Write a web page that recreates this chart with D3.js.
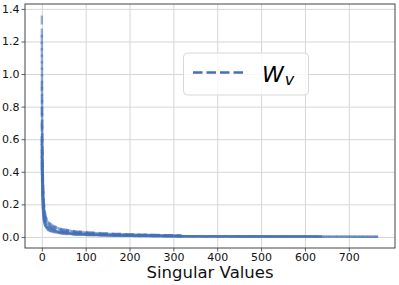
<!DOCTYPE html>
<html>
<head>
<meta charset="utf-8">
<script src="https://cdn.jsdelivr.net/npm/d3@7"></script>
<style>
  body { margin: 0; background: #fff; }
  svg { display: block; font-family: "DejaVu Sans", sans-serif; }
</style>
</head>
<body>
<script>
const knots = [0, 1, 2, 3, 5, 8, 12, 20, 35, 60, 100, 160, 250, 319, 450, 639, 767];

// each series follows the knots; shorter series stop earlier
const seriesValues = [
  [1.36, 0.66, 0.44, 0.32, 0.20, 0.14, 0.105, 0.080, 0.058, 0.042, 0.030, 0.020, 0.013, 0.009],
  [1.24, 0.60, 0.40, 0.30, 0.19, 0.13, 0.100, 0.076, 0.055, 0.040, 0.028, 0.019, 0.012, 0.008],
  [0.95, 0.55, 0.38, 0.28, 0.18, 0.12, 0.092, 0.070, 0.050, 0.036, 0.025, 0.017, 0.011, 0.007],
  [0.80, 0.50, 0.35, 0.26, 0.16, 0.11, 0.085, 0.064, 0.046, 0.033, 0.023, 0.015, 0.010, 0.006],
  [0.70, 0.46, 0.33, 0.24, 0.15, 0.10, 0.078, 0.058, 0.042, 0.030, 0.021, 0.014, 0.009, 0.006],
  [0.62, 0.42, 0.30, 0.22, 0.14, 0.095, 0.072, 0.054, 0.039, 0.028, 0.019, 0.013, 0.008, 0.005],
  [0.60, 0.40, 0.28, 0.20, 0.13, 0.088, 0.066, 0.050, 0.036, 0.025, 0.017, 0.011, 0.007, 0.005, 0.004, 0.003],
  [0.57, 0.38, 0.27, 0.19, 0.12, 0.082, 0.062, 0.046, 0.033, 0.023, 0.016, 0.010, 0.007, 0.005, 0.004, 0.003],
  [0.54, 0.35, 0.25, 0.18, 0.11, 0.076, 0.058, 0.043, 0.031, 0.021, 0.015, 0.010, 0.006, 0.004, 0.003, 0.002],
  [0.50, 0.33, 0.23, 0.17, 0.105, 0.072, 0.054, 0.040, 0.029, 0.020, 0.014, 0.009, 0.006, 0.004, 0.003, 0.002, 0.001],
  [0.47, 0.31, 0.22, 0.16, 0.100, 0.068, 0.051, 0.038, 0.027, 0.019, 0.013, 0.008, 0.005, 0.004, 0.003, 0.002, 0.001],
  [0.44, 0.29, 0.20, 0.15, 0.095, 0.064, 0.048, 0.035, 0.025, 0.017, 0.012, 0.008, 0.005, 0.003, 0.002, 0.002, 0.001]
];

const xTicks = [0, 100, 200, 300, 400, 500, 600, 700];
const yTicks = [0.0, 0.2, 0.4, 0.6, 0.8, 1.0, 1.2, 1.4];
const xLabel = 'Singular Values';

var width = 399;
var height = 285;
var plotL = 25, plotR = 395, plotT = 4, plotB = 248;
var lineColor = '#4470b8';

var svg = d3.select('body')
  .append('svg')
  .attr('width', width)
  .attr('height', height);

var x = d3.scaleLinear().domain([-38.35, 805.35]).range([plotL, plotR]);
var y = d3.scaleLinear().domain([-0.068, 1.43]).range([plotB, plotT]);

// grid
svg.append('g')
  .attr('transform', 'translate(0,' + plotB + ')')
  .call(d3.axisBottom(x).tickValues(xTicks).tickSize(-(plotB - plotT)).tickFormat(''))
  .call(g => g.select('.domain').remove())
  .call(g => g.selectAll('line').attr('stroke', '#d6d6d6').attr('stroke-width', 1));

svg.append('g')
  .attr('transform', 'translate(' + plotL + ',0)')
  .call(d3.axisLeft(y).tickValues(yTicks).tickSize(-(plotR - plotL)).tickFormat(''))
  .call(g => g.select('.domain').remove())
  .call(g => g.selectAll('line').attr('stroke', '#d6d6d6').attr('stroke-width', 1));

// series lines
var line = d3.line()
  .x(d => x(d[0]))
  .y(d => y(d[1]))
  .curve(d3.curveMonotoneX);

svg.append('g')
  .selectAll('path')
  .data(seriesValues.map(vals => vals.map((v, i) => [knots[i], v])))
  .join('path')
  .attr('d', line)
  .attr('fill', 'none')
  .attr('stroke', lineColor)
  .attr('stroke-opacity', 0.55)
  .attr('stroke-width', 2.4)
  .attr('stroke-dasharray', '9,4');

// axes
var xAxis = svg.append('g')
  .attr('transform', 'translate(0,' + plotB + ')')
  .call(d3.axisBottom(x).tickValues(xTicks).tickSize(3.5).tickPadding(2).tickFormat(d3.format('d')));

var yAxis = svg.append('g')
  .attr('transform', 'translate(' + plotL + ',0)')
  .call(d3.axisLeft(y).tickValues(yTicks).tickSize(3.5).tickPadding(2).tickFormat(d3.format('.1f')));

[xAxis, yAxis].forEach(g => {
  g.select('.domain').remove();
  g.selectAll('line').attr('stroke', '#333').attr('stroke-width', 0.8);
  g.selectAll('text').attr('fill', '#111').style('font-size', '11px').style('font-family', '"DejaVu Sans", sans-serif');
});

// frame
svg.append('rect')
  .attr('x', plotL).attr('y', plotT)
  .attr('width', plotR - plotL).attr('height', plotB - plotT)
  .attr('fill', 'none')
  .attr('stroke', '#444')
  .attr('stroke-width', 1);

svg.append('text')
  .attr('x', (plotL + plotR) / 2)
  .attr('y', 278)
  .attr('text-anchor', 'middle')
  .style('font-size', '16.5px')
  .attr('fill', '#111')
  .text(xLabel);

// legend
var legend = svg.append('g');
legend.append('rect')
  .attr('x', 183.5).attr('y', 53)
  .attr('width', 125).attr('height', 42)
  .attr('rx', 4)
  .attr('fill', 'white').attr('fill-opacity', 0.8)
  .attr('stroke', '#d8d8d8');
legend.append('line')
  .attr('x1', 193).attr('x2', 243)
  .attr('y1', 72.5).attr('y2', 72.5)
  .attr('stroke', lineColor)
  .attr('stroke-width', 2.6)
  .attr('stroke-dasharray', '9.5,4');
var lt = legend.append('text')
  .attr('x', 262).attr('y', 82)
  .style('font-style', 'italic')
  .style('font-size', '22px')
  .attr('fill', '#000');
lt.append('tspan').text('W');
lt.append('tspan').attr('dy', 3).attr('dx', 1).style('font-size', '16px').text('v');
</script>
</body>
</html>
